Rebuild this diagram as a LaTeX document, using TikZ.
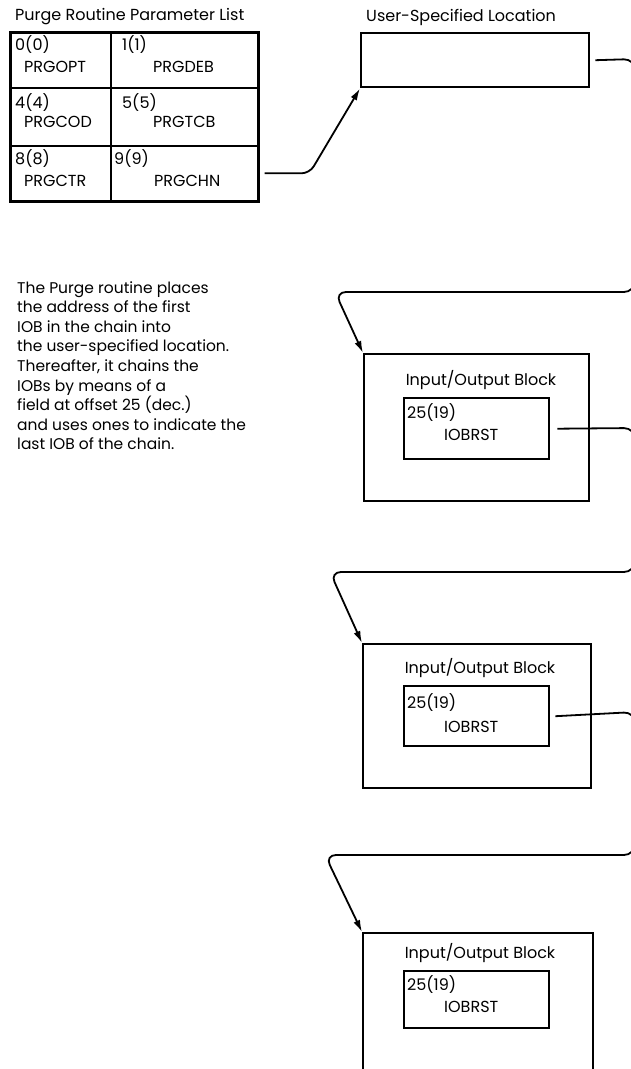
\documentclass[tikz,border=0pt]{standalone}
\usepackage{fontspec}
\setmainfont{Poppins}
\usetikzlibrary{arrows.meta,positioning}

\tikzset{
  cellbox/.style={draw, line width=1.6pt, inner sep=0pt, anchor=north west},
  blockbox/.style={draw, line width=2.4pt, inner sep=0pt, anchor=north west},
  txt/.style={inner sep=0pt, anchor=west, font=\fontsize{16}{18}\selectfont},
  fieldtxt/.style={inner sep=0pt, anchor=west, font=\fontsize{16}{18}\selectfont},
  link/.style={line width=1.8pt, rounded corners=8pt, -{Latex[length=12pt,width=7pt]}},
}

\begin{document}
\begin{tikzpicture}[x=1pt,y=-1pt]
\useasboundingbox (0,0) rectangle (631,1069);

% parameter list
\node[txt] (plisttitle) at (15,17) {Purge Routine Parameter List};
\node[cellbox, minimum width=100pt, minimum height=55pt] (opt) at (10,32) {};
\node[cellbox, minimum width=147pt, minimum height=55pt] (deb) at (110,32) {};
\node[cellbox, minimum width=100pt, minimum height=58pt] (cod) at (10,87) {};
\node[cellbox, minimum width=147pt, minimum height=58pt] (tcb) at (110,87) {};
\node[cellbox, minimum width=100pt, minimum height=55pt] (ctr) at (10,145) {};
\node[cellbox, minimum width=147pt, minimum height=55pt] (chn) at (110,145) {};
\draw[line width=2.8pt] (opt.north west) rectangle (chn.south east);

\node[fieldtxt] at (15,45) {0(0)};
\node[fieldtxt] at (24,67) {PRGOPT};
\node[fieldtxt] at (122,45) {1(1)};
\node[fieldtxt] at (153,67) {PRGDEB};
\node[fieldtxt] at (15,103) {4(4)};
\node[fieldtxt] at (24,122) {PRGCOD};
\node[fieldtxt] at (122,103) {5(5)};
\node[fieldtxt] at (153,122) {PRGTCB};
\node[fieldtxt] at (15,159) {8(8)};
\node[fieldtxt] at (24,181) {PRGCTR};
\node[fieldtxt] at (114,159) {9(9)};
\node[fieldtxt] at (154,181) {PRGCHN};

% user location
\node[txt] (usltitle) at (366,17) {User-Specified Location};
\node[blockbox, minimum width=228pt, minimum height=54pt] (usl) at (360,32) {};

% note
\node[inner sep=0pt, anchor=north west, align=left, font=\fontsize{15.5}{19.6}\selectfont] (note) at (17,281)
  {The Purge routine places\\the address of the first\\IOB in the chain into\\the user-specified location.\\Thereafter, it chains the\\IOBs by means of a\\field at offset 25 (dec.)\\and uses ones to indicate the\\last IOB of the chain.};

% first IOB
\node[blockbox, minimum width=225pt, minimum height=147pt] (iobA) at (363,353) {};
\node[txt, anchor=center] at (481,380) {Input/Output Block};
\node[cellbox, line width=2.4pt, minimum width=145pt, minimum height=61pt] (rstA) at (403,397) {};
\node[fieldtxt] at (407,413) {25(19)};
\node[fieldtxt] at (444,435) {IOBRST};

% second IOB
\node[blockbox, minimum width=228pt, minimum height=144pt] (iobB) at (362,643) {};
\node[txt, anchor=center] at (480,668) {Input/Output Block};
\node[cellbox, line width=2.4pt, minimum width=145pt, minimum height=60pt] (rstB) at (403,685) {};
\node[fieldtxt] at (407,703) {25(19)};
\node[fieldtxt] at (444,727) {IOBRST};

% third IOB
\node[blockbox, minimum width=230pt, minimum height=160pt] (iobC) at (362,932) {};
\node[txt, anchor=center] at (480,953) {Input/Output Block};
\node[cellbox, line width=2.4pt, minimum width=145pt, minimum height=57pt] (rstC) at (403,970) {};
\node[fieldtxt] at (407,985) {25(19)};
\node[fieldtxt] at (444,1007) {IOBRST};

% chain
\draw[link] ([xshift=6pt]chn.east) -- ++(45,0) -- (usl.south west);
\draw[link, rounded corners=11pt] ([xshift=5pt]usl.east) -- (635,59) -- (635,292) -- (335,292) -- (iobA.north west);
\draw[link, rounded corners=11pt] ([xshift=7pt]rstA.east) -- (635,428) -- (635,572) -- (330,572) -- (iobB.north west);
\draw[link, rounded corners=11pt] ([xshift=5pt]rstB.east) -- (635,712) -- (635,855) -- (325,855) -- (iobC.north west);
\end{tikzpicture}
\end{document}
